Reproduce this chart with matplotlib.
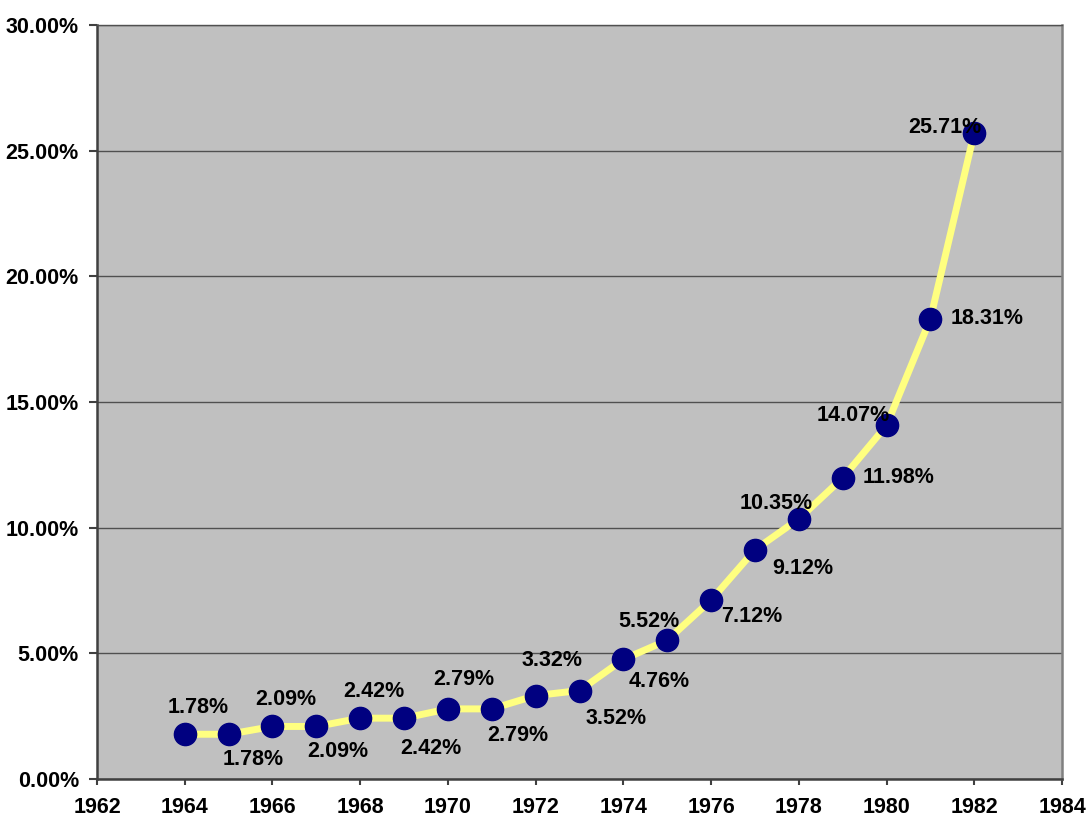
import matplotlib
matplotlib.use('Agg')
import matplotlib.pyplot as plt

years = [1964, 1965, 1966, 1967, 1968, 1969, 1970, 1971, 1972, 1973,
         1974, 1975, 1976, 1977, 1978, 1979, 1980, 1981, 1982]
rates = [1.78, 1.78, 2.09, 2.09, 2.42, 2.42, 2.79, 2.79, 3.32, 3.52,
         4.76, 5.52, 7.12, 9.12, 10.35, 11.98, 14.07, 18.31, 25.71]
year_ticks = list(range(1962, 1985, 2))
pct_ticks = [0, 5, 10, 15, 20, 25, 30]

# label offsets in pixels (dx, dy image coords) relative to each marker
label_off = [(13, -27), (25, 25), (13, -27), (21, 25), (14, -27), (27, 30),
             (16, -29), (26, 27), (16, -35), (37, 28), (36, 22), (-18, -19),
             (41, 16), (48, 19), (-23, -15), (56, 0), (-33, -10), (57, 0),
             (-29, -5)]

plt.rcParams['font.family'] = 'Liberation Sans'
plt.rcParams['font.weight'] = 'bold'

fig = plt.figure(figsize=(10.87, 8.21), dpi=100)
ax = fig.add_axes([97 / 1087, 42 / 821, (1062 - 97) / 1087, (779 - 25) / 821])
ax.set_facecolor('#C0C0C0')

ax.plot(years, rates, color='#FFFF80', lw=5, zorder=3)
ax.plot(years, rates, ls='none', marker='o', ms=16, color='#000080', zorder=4)

for x, y, (dx, dy) in zip(years, rates, label_off):
    ax.annotate(f'{y:.2f}%', (x, y), xytext=(dx, -dy), textcoords='offset pixels',
                ha='center', va='center', fontsize=15.5, fontweight='bold',
                color='black', zorder=5)

ax.set_xlim(1962, 1984)
ax.set_ylim(0, 30)
ax.set_xticks(year_ticks)
ax.set_yticks(pct_ticks)
ax.set_yticklabels([f'{v:.2f}%' for v in pct_ticks])
ax.tick_params(axis='both', labelsize=15.5, colors='black', width=1.5)
ax.tick_params(axis='x', length=4, pad=9, color='#404040')
ax.tick_params(axis='y', length=6, pad=7, color='#404040')
for lab in ax.get_xticklabels() + ax.get_yticklabels():
    lab.set_fontweight('bold')

ax.grid(axis='y', color='#505050', lw=1)
ax.set_axisbelow(True)
ax.spines['left'].set_color('#404040')
ax.spines['left'].set_linewidth(1.8)
ax.spines['bottom'].set_color('#404040')
ax.spines['bottom'].set_linewidth(1.8)
ax.spines['right'].set_color('#808080')
ax.spines['right'].set_linewidth(1.8)
ax.spines['top'].set_color('#505050')
ax.spines['top'].set_linewidth(1)

plt.savefig('out.png', dpi=100)
